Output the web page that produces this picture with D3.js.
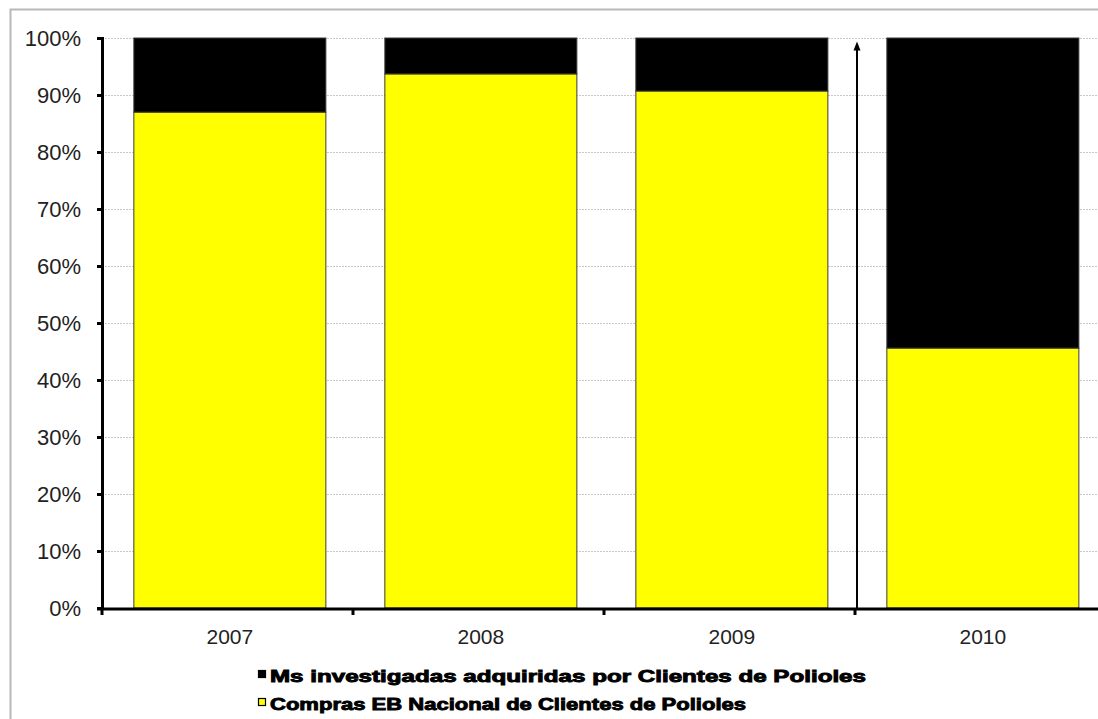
<!DOCTYPE html>
<html>
<head>
<meta charset="utf-8">
<script src="https://cdn.jsdelivr.net/npm/d3@7"></script>
<style>
  html, body { margin: 0; padding: 0; background: #fff; }
  svg { display: block; }
</style>
</head>
<body>
<svg id="chart" width="1098" height="719"></svg>
<script>
// Share of polyol purchases by year
const years = ["2007", "2008", "2009", "2010"];
const nacional = [87.0, 93.7, 90.7, 45.6];      // Compras EB Nacional
const investigadas = [13.0, 6.3, 9.3, 54.4];    // Ms investigadas adquiridas
const yTicks = [0, 10, 20, 30, 40, 50, 60, 70, 80, 90, 100];
const seriesNames = [
  "Ms investigadas adquiridas por Clientes de Polioles",
  "Compras EB Nacional de Clientes de Polioles"
];
const seriesColors = ["#000000", "#ffff00"];

const svg = d3.select("#chart");
const labelFont = "Liberation Sans, Arial, sans-serif";

// outer chart frame
svg.append("rect")
  .attr("x", 10.5).attr("y", 9.5)
  .attr("width", 1100).attr("height", 720)
  .attr("fill", "#fff").attr("stroke", "#b8b8b8").attr("stroke-width", 2);

const plot = { left: 102, right: 1106, top: 38, bottom: 608 };

const x = d3.scaleBand()
  .domain(years)
  .range([plot.left, plot.right])
  .paddingInner(0.235)
  .paddingOuter(0.1175)
  .align(0.54);

const y = d3.scaleLinear().domain([0, 100]).range([plot.bottom, plot.top]);

// dotted gridlines
svg.append("g")
  .selectAll("line")
  .data(yTicks.filter(d => d > 0))
  .join("line")
  .attr("x1", plot.left).attr("x2", 1098)
  .attr("y1", d => Math.round(y(d)) + 0.5).attr("y2", d => Math.round(y(d)) + 0.5)
  .attr("stroke", "#c8c8c8").attr("stroke-width", 1)
  .attr("stroke-dasharray", "2,1");

const stack = years.map((yr, i) => ({ yr, nac: nacional[i], inv: investigadas[i] }));

// yellow segment (bottom)
svg.append("g")
  .selectAll("rect")
  .data(stack)
  .join("rect")
  .attr("x", d => x(d.yr)).attr("width", x.bandwidth())
  .attr("y", d => y(d.nac)).attr("height", d => y(0) - y(d.nac))
  .attr("fill", seriesColors[1]).attr("stroke", "#3a3a3a").attr("stroke-width", 1);

// black segment (top)
svg.append("g")
  .selectAll("rect")
  .data(stack)
  .join("rect")
  .attr("x", d => x(d.yr)).attr("width", x.bandwidth())
  .attr("y", d => y(d.nac + d.inv)).attr("height", d => y(d.nac) - y(d.nac + d.inv))
  .attr("fill", seriesColors[0]).attr("stroke", "#3a3a3a").attr("stroke-width", 1);

// y axis
const yAxis = svg.append("g")
  .attr("transform", `translate(${plot.left},0)`)
  .call(d3.axisLeft(y).tickValues(yTicks).tickFormat(d => d + "%").tickSize(5).tickPadding(16));
yAxis.select(".domain").attr("stroke", "#000").attr("stroke-width", 3);
yAxis.selectAll(".tick line").attr("stroke", "#000").attr("stroke-width", 3);
yAxis.selectAll("text")
  .attr("font-family", labelFont)
  .attr("font-size", 22).attr("fill", "#222");

// x axis with ticks on category boundaries
const step = x.step();
const boundaries = d3.range(years.length + 1).map(i => plot.left + i * step);
svg.append("line")
  .attr("x1", plot.left - 5).attr("x2", 1098)
  .attr("y1", plot.bottom + 1).attr("y2", plot.bottom + 1)
  .attr("stroke", "#000").attr("stroke-width", 3);
svg.append("g")
  .selectAll("line")
  .data(boundaries)
  .join("line")
  .attr("x1", d => d).attr("x2", d => d)
  .attr("y1", plot.bottom).attr("y2", plot.bottom + 7)
  .attr("stroke", "#000").attr("stroke-width", 3);
svg.append("g")
  .selectAll("text")
  .data(years)
  .join("text")
  .attr("x", d => x(d) + x.bandwidth() / 2)
  .attr("y", plot.bottom + 36)
  .attr("text-anchor", "middle")
  .attr("font-family", labelFont)
  .attr("font-size", 21).attr("fill", "#222")
  .text(d => d);

// arrow between 2009 and 2010
const arrowX = boundaries[3] + 2;
const arrowTop = y(99.4);
svg.append("line")
  .attr("x1", arrowX).attr("x2", arrowX)
  .attr("y1", y(0)).attr("y2", arrowTop + 6)
  .attr("stroke", "#000").attr("stroke-width", 2);
svg.append("path")
  .attr("d", `M${arrowX},${arrowTop} L${arrowX - 3.5},${arrowTop + 9} L${arrowX + 3.5},${arrowTop + 9} Z`)
  .attr("fill", "#000");

// legend
const legend = svg.append("g");
const legendRows = [
  { name: seriesNames[0], color: seriesColors[0], yPos: 676, len: 596 },
  { name: seriesNames[1], color: seriesColors[1], yPos: 704, len: 476 }
];
legendRows.forEach(r => {
  legend.append("rect")
    .attr("x", 258.5).attr("y", r.yPos - 5.5)
    .attr("width", 7).attr("height", 7)
    .attr("fill", r.color).attr("stroke", "#000").attr("stroke-width", 1.2);
  legend.append("text")
    .attr("x", 270).attr("y", r.yPos + 6)
    .attr("font-family", labelFont)
    .attr("font-weight", "bold")
    .attr("font-size", 17)
    .attr("stroke", "#000").attr("stroke-width", 0.9)
    .attr("textLength", r.len).attr("lengthAdjust", "spacingAndGlyphs")
    .attr("fill", "#000")
    .text(r.name);
});
</script>
</body>
</html>
